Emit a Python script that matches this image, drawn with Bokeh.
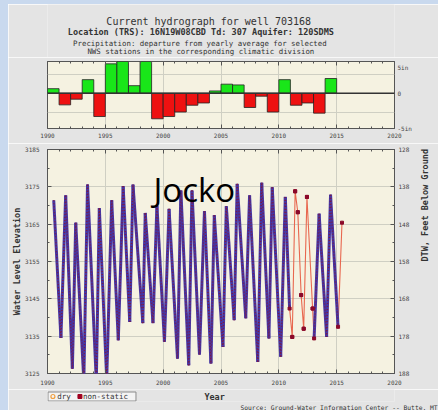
import math
from bokeh.plotting import figure
from bokeh.models import Range1d, LinearAxis, FixedTicker, Label, Span, Grid, Spacer, Title
from bokeh.layouts import column, row
from bokeh.core.properties import value
from bokeh.embed import file_html
from bokeh.resources import INLINE

# ---------------- data ----------------
precip_years = list(range(1990, 2015))
precip_dep = [0.6, -1.55, -0.8, 1.8, -3.1, 3.9, 4.6, 1.0, 4.3, -3.4, -3.1, -2.5,
              -1.6, -1.3, 0.3, 1.2, 1.1, -1.9, -0.4, -2.5, 1.8, -1.6, -1.3, -2.65, 1.95]

hydro_year = [1990.54, 1991.16, 1991.57, 1992.15, 1992.44, 1993.14, 1993.46, 1994.22,
              1994.48, 1995.12, 1995.55, 1996.12, 1996.54, 1997.11, 1997.39, 1998.24,
              1998.45, 1999.12, 1999.46, 2000.11, 2000.51, 2001.24, 2001.53, 2002.21,
              2002.49, 2003.14, 2003.57, 2004.13, 2004.42, 2005.17, 2005.46, 2006.14,
              2006.40, 2007.14, 2007.47, 2008.18, 2008.52, 2009.14, 2009.43, 2010.16,
              2010.56, 2010.93, 2011.16, 2011.41, 2011.64, 2011.93, 2012.15, 2012.43,
              2012.92, 2013.05, 2013.48, 2014.13, 2014.47, 2015.12, 2015.46]
hydro_elev = [3171.4, 3134.5, 3172.7, 3126.3, 3165.4, 3123.0, 3175.6, 3123.0,
              3169.3, 3123.5, 3171.4, 3133.9, 3175.2, 3138.8, 3175.6, 3138.5,
              3168.0, 3138.5, 3170.0, 3133.5, 3169.1, 3129.0, 3174.0, 3127.2,
              3174.0, 3130.1, 3168.5, 3127.7, 3167.4, 3132.1, 3169.8, 3139.3,
              3175.8, 3139.8, 3172.7, 3128.1, 3176.1, 3134.4, 3174.9, 3129.5,
              3172.3, 3142.4, 3134.8, 3173.8, 3168.2, 3146.0, 3137.0, 3172.3,
              3142.4, 3134.4, 3167.8, 3134.8, 3172.9, 3137.5, 3165.4]
# 1 = frequent (static) measurements in the interval that starts at this point, 0 = sparse non-static
hydro_dense = [1] * 41 + [0, 0, 0, 0, 0, 0, 0, 0] + [1, 1, 1, 1, 0, 0]

year_ticks = [1990, 1995, 2000, 2005, 2010, 2015, 2020]
year_minor = list(range(1990, 2021))
elev_ticks = [3125, 3135, 3145, 3155, 3165, 3175, 3185]
elev_minor = [3130, 3140, 3150, 3160, 3170, 3180]
dtw_ticks = [128, 138, 148, 158, 168, 178, 188]
dtw_minor = [133, 143, 153, 163, 173, 183]

title_lines = ["Current hydrograph for well 703168",
               "Location (TRS): 16N19W08CBD Td: 307 Aquifer: 120SDMS",
               "Precipitation: departure from yearly average for selected",
               "NWS stations in the corresponding climatic division"]
legend_labels = ["dry", "non-static"]
source_text = "Source: Ground-Water Information Center -- Butte, MT"

MONO = "DejaVu Sans Mono"
BORDER = "#e4e4e4"
PLOTBG = "#f5f2e1"
GRID = "#cfcfc3"
TXT = "#333333"
SLIDE = "#c9d9ee"
W = 430    # image width (page x 8..438)
BL, BR = 39, 38  # shared left/right borders -> frames at image x 39..392


def style_axis(ax, labels=True, size="6px", standoff=4, ticks=True):
    ax.axis_line_color = None
    ax.major_tick_in = 4 if ticks else 0
    ax.major_tick_out = 0
    ax.minor_tick_in = 2 if ticks else 0
    ax.minor_tick_out = 0
    ax.major_tick_line_color = "#555555"
    ax.minor_tick_line_color = "#555555"
    ax.major_label_text_font = MONO
    ax.major_label_text_color = "#444444"
    if labels:
        ax.major_label_text_font_size = size
        ax.major_label_standoff = standoff
    else:
        ax.major_label_text_font_size = "1px"
        ax.major_label_text_color = None
        ax.major_label_standoff = 0


def pixel_fig(height, frame_h, bottom=0):
    # auxiliary text strip: data units = pixels from the image's left edge / strip top
    f = figure(width=W, height=height, x_range=Range1d(BL, W - BR), y_range=Range1d(frame_h, 0),
               x_axis_type=None, y_axis_type=None, output_backend="svg", toolbar_location=None,
               min_border_left=BL, min_border_right=BR, min_border_top=0, min_border_bottom=bottom)
    f.border_fill_color = BORDER
    f.background_fill_color = BORDER
    f.outline_line_color = None
    return f


def txt(f, x, y, s, size, bold=False, align="center", color=TXT):
    f.text(x=[x], y=[y], text=[s], text_font=value(MONO), text_font_size=value(size),
           text_font_style="bold" if bold else "normal", text_align=align,
           text_baseline="middle", text_color=color)


# ---------------- header (page y 4..57) ----------------
head = pixel_fig(53, 53)
txt(head, 203, 17, title_lines[0], "10px")
txt(head, 195, 27, title_lines[1], "8.5px", bold=True)
txt(head, 194, 39, title_lines[2], "7.4px")
txt(head, 195, 47, title_lines[3], "7.4px")

# ---------------- top: precipitation departure (page y 57..143) ----------------
top = figure(width=W, height=86, x_range=Range1d(1990, 2020), y_range=Range1d(-4.69, 4.21),
             x_axis_type=None, y_axis_type=None, output_backend="svg", toolbar_location=None,
             min_border_left=BL, min_border_right=BR, min_border_top=4, min_border_bottom=15)
top.border_fill_color = BORDER
top.background_fill_color = PLOTBG
top.outline_line_color = "#555555"

xt = FixedTicker(ticks=year_ticks, minor_ticks=year_minor)
ax = LinearAxis(ticker=xt)
style_axis(ax, standoff=4)
top.add_layout(ax, "below")
ax = LinearAxis(ticker=xt)
style_axis(ax, labels=False)
top.add_layout(ax, "above")
ax = LinearAxis(ticker=FixedTicker(ticks=[3.45, 0, -4.65]),
                major_label_overrides={3.45: "5in", 0: "0", -4.65: "-5in"})
style_axis(ax, standoff=3, ticks=False)
top.add_layout(ax, "right")

top.add_layout(Grid(dimension=0, ticker=FixedTicker(ticks=year_ticks[1:-1]), grid_line_color=GRID))
top.add_layout(Grid(dimension=1, ticker=FixedTicker(ticks=[-2.5, 2.5]), grid_line_color=GRID))

bar_colors = ["#19e619" if v >= 0 else "#ee1111" for v in precip_dep]
top.vbar(x=[y + 0.5 for y in precip_years], width=1, top=precip_dep, bottom=0,
         fill_color=bar_colors, line_color="#222222", line_width=0.8)
top.add_layout(Span(location=0, dimension="width", line_color="#333333", line_width=1.5))

# ---------------- bottom: hydrograph (page y 143..389) ----------------
bot = figure(width=W, height=246, x_range=Range1d(1990, 2020), y_range=Range1d(3125, 3185),
             x_axis_type=None, y_axis_type=None, output_backend="svg", toolbar_location=None,
             min_border_left=BL, min_border_right=BR, min_border_top=6, min_border_bottom=16)
bot.border_fill_color = BORDER
bot.background_fill_color = PLOTBG
bot.outline_line_color = "#555555"
bot.extra_y_ranges = {"dtw": Range1d(start=188, end=128)}

ax = LinearAxis(ticker=xt)
style_axis(ax, standoff=6)
bot.add_layout(ax, "below")
ax = LinearAxis(ticker=xt)
style_axis(ax, labels=False)
bot.add_layout(ax, "above")
ax = LinearAxis(ticker=FixedTicker(ticks=elev_ticks, minor_ticks=elev_minor),
                axis_label="Water Level Elevation")
style_axis(ax, standoff=8)
ax.axis_label_text_font = MONO
ax.axis_label_text_font_size = "8.5px"
ax.axis_label_text_font_style = "bold"
ax.axis_label_text_color = TXT
ax.axis_label_standoff = 0
bot.add_layout(ax, "left")
ax = LinearAxis(y_range_name="dtw", ticker=FixedTicker(ticks=dtw_ticks, minor_ticks=dtw_minor),
                axis_label="DTW, Feet Below Ground")
style_axis(ax, standoff=4)
ax.axis_label_text_font = MONO
ax.axis_label_text_font_size = "8.5px"
ax.axis_label_text_font_style = "bold"
ax.axis_label_text_color = TXT
ax.axis_label_standoff = 13
if "axis_label_orientation" in ax.properties():
    ax.axis_label_orientation = math.pi / 2
bot.add_layout(ax, "right")

bot.add_layout(Grid(dimension=0, ticker=FixedTicker(ticks=year_ticks[1:-1]), grid_line_color=GRID))
bot.add_layout(Grid(dimension=1, ticker=FixedTicker(ticks=elev_ticks[1:-1]), grid_line_color=GRID))

# thin connecting line through all readings
bot.line(hydro_year, hydro_elev, line_color="#e8674f", line_width=1.1)

dense_xs, dense_ys, sparse_x, sparse_y = [], [], [], []
for i in range(len(hydro_year) - 1):
    if hydro_dense[i]:
        dense_xs.append([hydro_year[i], hydro_year[i + 1]])
        dense_ys.append([hydro_elev[i], hydro_elev[i + 1]])
    else:
        for j in (i, i + 1):
            sparse_x.append(hydro_year[j])
            sparse_y.append(hydro_elev[j])

bot.multi_line(dense_xs, dense_ys, line_color="#4636a2", line_width=3.0, line_join="round")
bot.multi_line(dense_xs, dense_ys, line_color="#7e1844", line_width=1.4, line_dash="1 2")
bot.scatter(sparse_x, sparse_y, marker="square", size=3, fill_color="#8b0a2a", line_color="#8b0a2a")

bot.add_layout(Label(x=145, y=46, x_units="canvas", y_units="canvas", text="Jocko",
                     text_font="Open Sans", text_font_size="33px", text_align="left",
                     text_baseline="alphabetic", text_color="#000000"))

# ---------------- footer (page y 389..410) ----------------
foot = pixel_fig(21, 12, bottom=9)
txt(foot, 209, 7, "Year", "8.5px", bold=True)
foot.quad(left=[39.5], right=[129], top=[2.5], bottom=[11.5], fill_color="#f3f3f3", line_color="#8a8a8a")
foot.scatter([44.5], [7], marker="circle", size=4, fill_color=None, line_color="#f0a040", line_width=1.2)
txt(foot, 49, 7, legend_labels[0], "7.5px", align="left")
foot.scatter([72], [7], marker="square", size=4, fill_color="#a00020", line_color="#a00020")
txt(foot, 75, 7, legend_labels[1], "7.5px", align="left")
foot.add_layout(Title(text=source_text, align="left", offset=193, standoff=0,
                      text_font=MONO, text_font_size="6.3px", text_font_style="normal",
                      text_color=TXT), "below")

left_strip = Spacer(width=8, height=410, styles={"background-color": SLIDE})
top_strip = Spacer(width=W, height=4, styles={"background-color": SLIDE})
layout = row(left_strip, column(top_strip, head, top, bot, foot))
open("out.html", "w").write(file_html(layout, INLINE))
